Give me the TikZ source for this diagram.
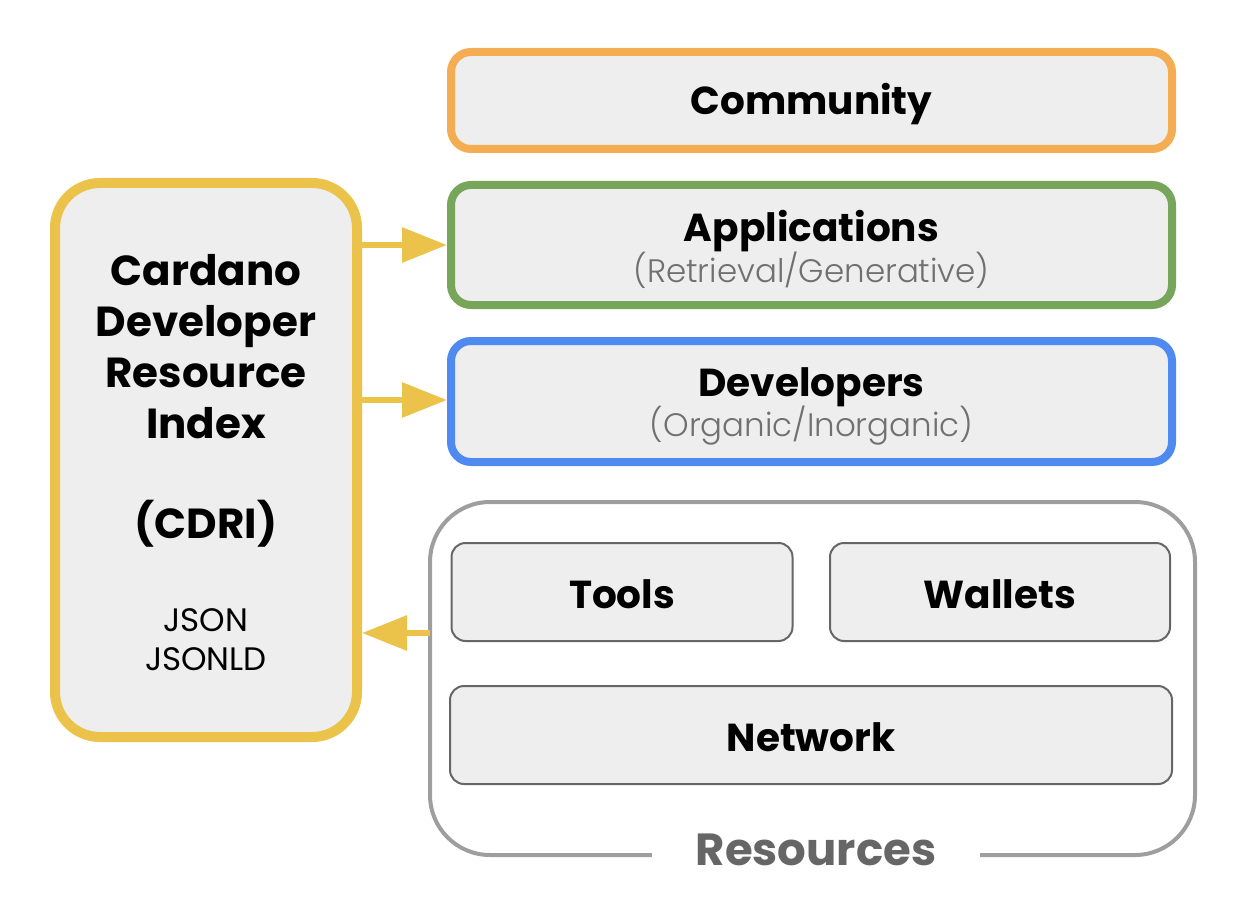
\documentclass[tikz,border=0pt]{standalone}
\usepackage{fontspec}
\setmainfont{Poppins}
\newfontfamily\lightfont{Poppins Light}
\usetikzlibrary{arrows.meta}
\definecolor{boxfill}{HTML}{EEEEEE}
\definecolor{corange}{HTML}{F4AD52}
\definecolor{cgreen}{HTML}{77A55A}
\definecolor{cblue}{HTML}{4E8AF0}
\definecolor{cyellow}{HTML}{EBC24A}
\definecolor{cgray}{HTML}{9E9E9E}
\definecolor{cdark}{HTML}{666666}
\definecolor{csub}{HTML}{707070}
\begin{document}
\begin{tikzpicture}[x=1pt,y=-1pt,
  layer/.style={draw, line width=8pt, fill=boxfill, rounded corners=20pt},
  inner/.style={draw=cdark, line width=2pt, fill=boxfill, rounded corners=14pt},
  title/.style={font=\fontsize{39}{44}\selectfont\bfseries, text=black},
  sub/.style={font=\lightfont\fontsize{32.5}{36}\selectfont, text=csub},
  arr/.style={draw=cyellow, line width=6pt, -{Triangle[length=45pt,width=34pt]}}]
\useasboundingbox (0,0) rectangle (1236,912);
% Resources container
\draw[cgray, line width=4pt, rounded corners=60pt] (430,502) rectangle (1195,855);
\node[fill=white, inner xsep=44pt, inner ysep=4pt, font=\fontsize{45}{50}\selectfont\bfseries, text=cdark] (res) at (816,850) {Resources};
\node[inner, minimum width=341pt, minimum height=98pt] (tools) at (622,592) {};
\node[title] at (622,594) {Tools};
\node[inner, minimum width=340pt, minimum height=98pt] (wallets) at (1000,592) {};
\node[title] at (1000,594) {Wallets};
\node[inner, minimum width=722pt, minimum height=98pt] (network) at (811,735) {};
\node[title] at (811,737) {Network};
\coordinate (resleft) at (430,633);
% Layers
\node[layer, draw=corange, minimum width=721pt, minimum height=97pt] (community) at (811.5,100.5) {};
\node[title] at (811.5,104) {Community};
\node[layer, draw=cgreen, minimum width=721pt, minimum height=120pt] (apps) at (811.5,245) {};
\node[title] at (811.5,231) {Applications};
\node[sub] at (811.5,270) {(Retrieval/Generative)};
\node[layer, draw=cblue, minimum width=721pt, minimum height=121pt] (devs) at (811.5,401.5) {};
\node[title] at (811.5,387) {Developers};
\node[sub] at (811.5,426) {(Organic/Inorganic)};
% CDRI
\node[draw=cyellow, line width=10pt, fill=boxfill, rounded corners=45pt, minimum width=302pt, minimum height=554pt] (cdri) at (206,460) {};
\node[title, align=center, font=\fontsize{42}{51}\selectfont\bfseries] at (206,347) {Cardano\\Developer\\Resource\\Index};
\node[title, font=\fontsize{42}{46}\selectfont\bfseries] at (206,524) {(CDRI)};
\node[align=center, font=\fontsize{32.5}{39}\selectfont] at (206,640) {JSON\\JSONLD};
% Arrows
\draw[arr] (cdri.east |- apps.west) -- (apps.west);
\draw[arr] (cdri.east |- 0,400) -- (devs.west |- 0,400);
\draw[arr] (resleft) -- (cdri.east |- resleft);
\end{tikzpicture}
\end{document}
